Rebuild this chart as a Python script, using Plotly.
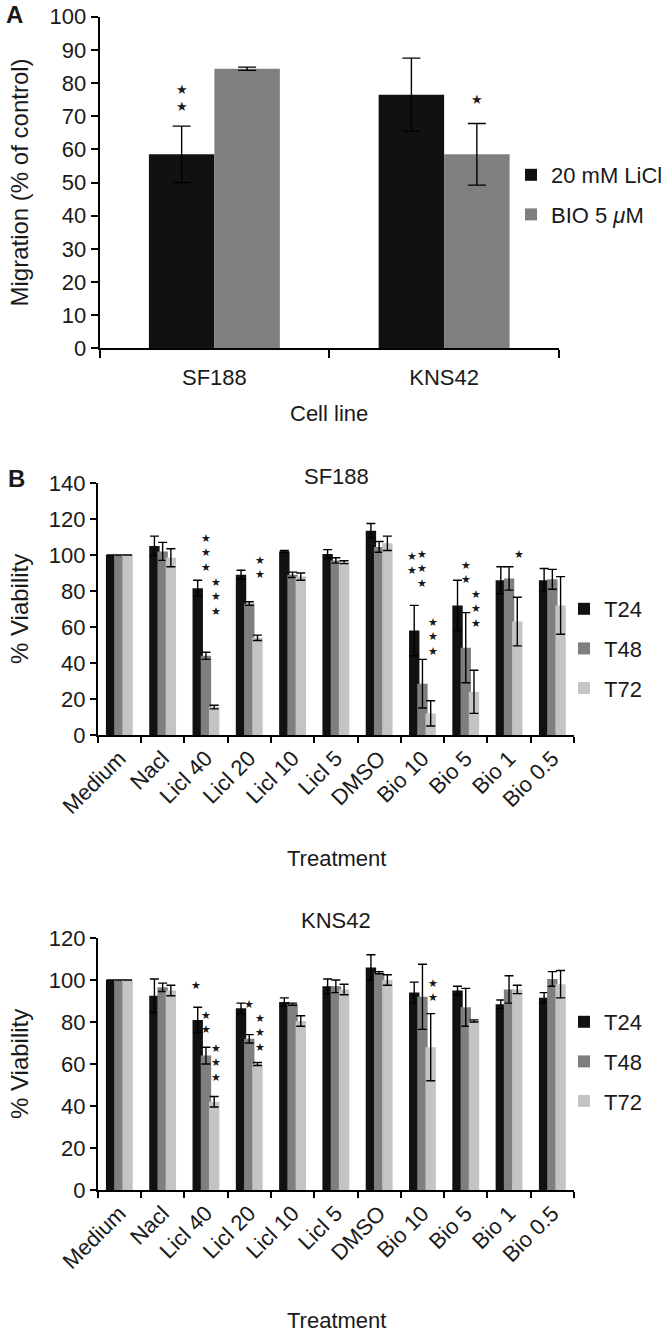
import plotly.graph_objects as go

# ---------------- data ----------------
cell_lines = ["SF188", "KNS42"]
licl_mig = [58.5, 76.5]
licl_mig_err = [8.5, 11.0]
bio_mig = [84.3, 58.5]
bio_mig_err = [0.5, 9.3]

treatments = ["Medium", "Nacl", "Licl 40", "Licl 20", "Licl 10", "Licl 5",
              "DMSO", "Bio 10", "Bio 5", "Bio 1", "Bio 0.5"]

sf_t24 = [100, 105, 81.5, 89, 102, 100.5, 113.5, 58, 72, 86, 86]
sf_t24_err = [0, 5.5, 4.5, 2.5, 0.5, 2.5, 4, 14, 14, 7.5, 6.5]
sf_t48 = [100, 102, 44, 73, 89, 97, 104.5, 28.5, 48.5, 87, 86.5]
sf_t48_err = [0, 5, 2, 1, 1.5, 1.5, 3, 13.5, 19.5, 6.5, 5.5]
sf_t72 = [100, 98.5, 15.5, 54, 88, 96, 106.5, 12, 24, 63, 72]
sf_t72_err = [0, 5, 1, 1.5, 2, 0.8, 4, 7, 12, 13.5, 16]

kn_t24 = [100, 92.5, 81, 86.5, 89.5, 97, 106, 94, 95, 88.5, 91.5]
kn_t24_err = [0, 8, 6, 2.5, 2, 3.5, 6, 5, 2, 2, 2.5]
kn_t48 = [100, 96.5, 64, 72, 88.5, 97, 103.5, 92, 87, 95.5, 100.5]
kn_t48_err = [0, 2, 4, 2, 0.5, 3, 0.5, 15.5, 9, 6.5, 3.5]
kn_t72 = [100, 95, 42, 60, 80.5, 95.5, 100, 68, 80.5, 95.5, 98]
kn_t72_err = [0, 2.5, 2.5, 0.7, 2.5, 2.5, 2.5, 16, 0.5, 2, 6.5]

# significance stars: (category, series index, star count, value at centre)
stars_a = [("SF188", 0, 2, 75.6), ("KNS42", 1, 1, 74.9)]
stars_sf = [("Licl 40", 1, 3, 100.9), ("Licl 40", 2, 3, 76.8), ("Licl 20", 2, 2, 93.3),
            ("Bio 10", 0, 2, 95.5), ("Bio 10", 1, 3, 92), ("Bio 10", 2, 3, 54.7),
            ("Bio 5", 1, 2, 90), ("Bio 5", 2, 3, 70), ("Bio 1", 2, 1, 100)]
stars_kn = [("Licl 40", 0, 1, 97.4), ("Licl 40", 1, 2, 79.7), ("Licl 40", 2, 3, 60.6),
            ("Licl 20", 1, 1, 88.3), ("Licl 20", 2, 3, 74.7), ("Bio 10", 2, 2, 94.8)]

# ---------------- style ----------------
W, H = 672, 1336
FONT = "Liberation Sans, Arial, sans-serif"
BLACK, MID, LIGHT = "#111111", "#7f7f7f", "#c4c4c4"
TXT = "#1a1a1a"
TICK_SIZE = 22

def px_x(p):
    return p / W

def px_y(p):
    return 1 - p / H

dom_a_x = [px_x(99.5), px_x(559)]
dom_a_y = [px_y(348.3), px_y(16.7)]
dom_b_x = [px_x(97.7), px_x(574)]
dom_b1_y = [px_y(735), px_y(483)]
dom_b2_y = [px_y(1190), px_y(938)]

gap_a = 0.43
gap_b = 0.28

fig = go.Figure()

def err(arr, w):
    return dict(type="data", array=arr, visible=True, color="black", thickness=1.4, width=w)

fig.add_bar(x=cell_lines, y=licl_mig, error_y=err(licl_mig_err, 9), name="20 mM LiCl",
            marker=dict(color=BLACK, line_width=0), xaxis="x", yaxis="y",
            legend="legend", legendgroup="a1")
fig.add_bar(x=cell_lines, y=bio_mig, error_y=err(bio_mig_err, 9), name="BIO 5 <i>μ</i>M",
            marker=dict(color=MID, line_width=0), xaxis="x", yaxis="y",
            legend="legend", legendgroup="a2")

for ax, leg, series in [("2", "legend2", [(sf_t24, sf_t24_err), (sf_t48, sf_t48_err), (sf_t72, sf_t72_err)]),
                        ("3", "legend3", [(kn_t24, kn_t24_err), (kn_t48, kn_t48_err), (kn_t72, kn_t72_err)])]:
    for (vals, e), nm, col in zip(series, ["T24", "T48", "T72"], [BLACK, MID, LIGHT]):
        fig.add_bar(x=treatments, y=vals, error_y=err(e, 4.5), name=nm,
                    marker=dict(color=col, line_width=0), xaxis="x" + ax, yaxis="y" + ax,
                    legend=leg, legendgroup=leg + nm, width=(1 - gap_b) / 3)

axis_common = dict(showline=True, linecolor="black", linewidth=1.6, showgrid=False,
                   zeroline=False, ticks="outside", tickcolor="black", tickwidth=1.6,
                   automargin=False,
                   tickfont=dict(family=FONT, size=TICK_SIZE, color=TXT))

fig.update_layout(
    width=W, height=H, margin=dict(l=0, r=0, t=0, b=0),
    paper_bgcolor="white", plot_bgcolor="white", barmode="group",
    bargap=gap_a, showlegend=True,
    xaxis=dict(domain=dom_a_x, anchor="y", tickson="boundaries", ticklen=8,
               ticklabelstandoff=8, **axis_common),
    yaxis=dict(domain=dom_a_y, anchor="x", range=[0, 100], dtick=10, ticklen=7, **axis_common),
    xaxis2=dict(domain=dom_b_x, anchor="y2", tickson="boundaries", ticklen=6, tickangle=-45, **axis_common),
    yaxis2=dict(domain=dom_b1_y, anchor="x2", range=[0, 140], dtick=20, ticklen=6, **axis_common),
    xaxis3=dict(domain=dom_b_x, anchor="y3", tickson="boundaries", ticklen=6, tickangle=-45, **axis_common),
    yaxis3=dict(domain=dom_b2_y, anchor="x3", range=[0, 120], dtick=20, ticklen=6, **axis_common),
    font=dict(family=FONT, size=TICK_SIZE, color=TXT),
)

legend_common = dict(font=dict(family=FONT, size=22, color=TXT), bgcolor="rgba(0,0,0,0)",
                     xanchor="left", yanchor="top", itemwidth=30, tracegroupgap=8,
                     itemclick=False)
fig.update_layout(
    legend=dict(x=px_x(511), y=px_y(154), **legend_common),
    legend2=dict(x=px_x(564), y=px_y(588), **legend_common),
    legend3=dict(x=px_x(564), y=px_y(1001), **legend_common),
)

def add_stars(stars, xa, ya, cat_w, n_series, gap, size):
    bar_w = cat_w * (1 - gap) / n_series
    for cat, s, n, v in stars:
        off = (s - (n_series - 1) / 2) * bar_w
        fig.add_annotation(x=cat, y=v, xref=xa, yref=ya, xshift=off, text="<br>".join(["★"] * n),
                           showarrow=False, yanchor="middle", xanchor="center",
                           font=dict(family="DejaVu Sans", size=size, color=TXT))

add_stars(stars_a, "x", "y", (559 - 99.5) / 2, 2, gap_a, 13)
add_stars(stars_sf, "x2", "y2", (574 - 97.7) / 11, 3, gap_b, 11)
add_stars(stars_kn, "x3", "y3", (574 - 97.7) / 11, 3, gap_b, 11)

def text(x, y, s, size=22, angle=0, bold=False):
    fig.add_annotation(x=px_x(x), y=px_y(y), xref="paper", yref="paper",
                       text=("<b>%s</b>" % s) if bold else s,
                       showarrow=False, textangle=angle, xanchor="center", yanchor="middle",
                       font=dict(family=FONT, size=size, color=TXT))

text(14, 14, "A", 24, bold=True)
text(16, 479, "B", 24, bold=True)
text(19, 182.5, "Migration (% of control)", 24, angle=-90)
text(329, 413, "Cell line", 22)
text(336, 477, "SF188", 22)
text(19, 609, "% Viability", 24, angle=-90)
text(336, 858, "Treatment", 22)
text(336, 920, "KNS42", 22)
text(19, 1064, "% Viability", 24, angle=-90)
text(336, 1320, "Treatment", 22)

fig.write_html("out.html", config={"displayModeBar": False},
               post_script="document.body.style.margin='0';document.body.style.overflow='hidden';")
